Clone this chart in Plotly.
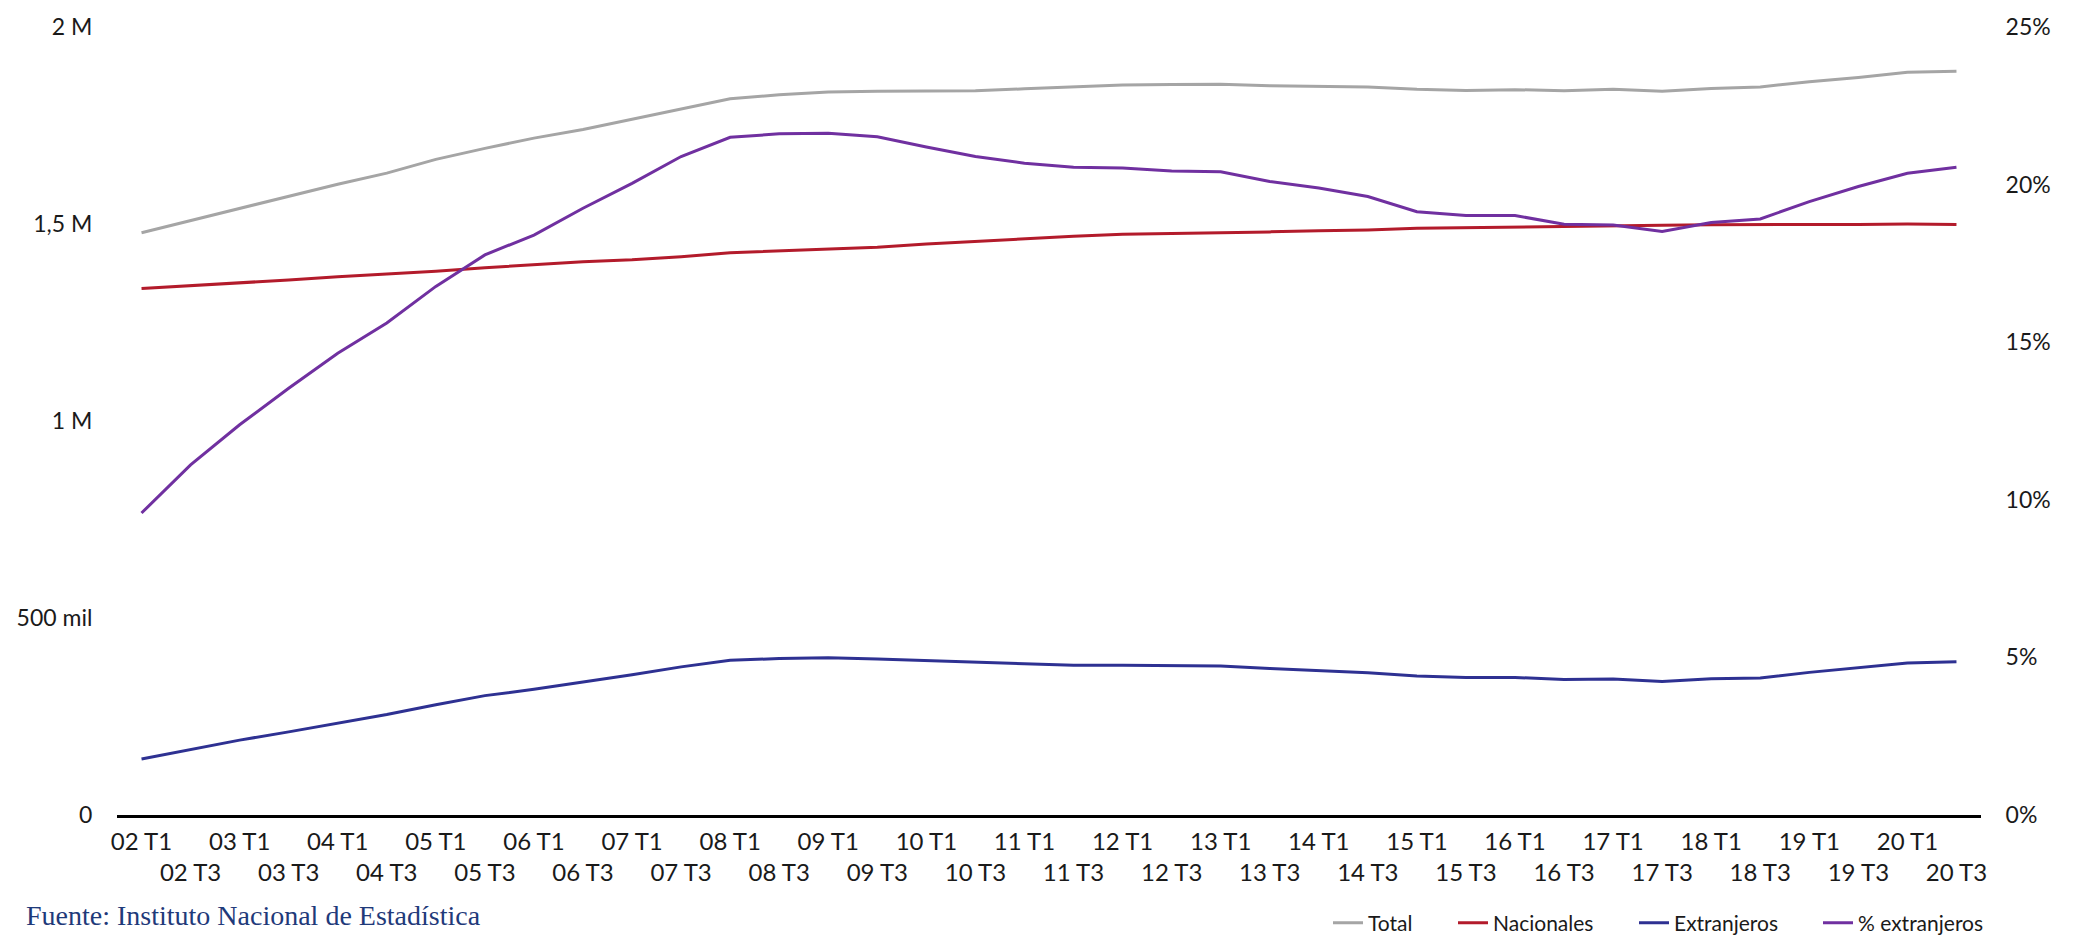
import plotly.graph_objects as go

# ---- data ----
periods = []
for yy in range(2, 21):
    periods.append(f"{yy:02d} T1")
    periods.append(f"{yy:02d} T3")

total = [1.478, 1.509, 1.540, 1.570, 1.601, 1.629, 1.664, 1.692, 1.718, 1.740,
         1.766, 1.792, 1.818, 1.828, 1.835, 1.837, 1.838, 1.838, 1.843, 1.848,
         1.853, 1.854, 1.855, 1.851, 1.850, 1.848, 1.842, 1.839, 1.841, 1.838,
         1.842, 1.837, 1.844, 1.848, 1.861, 1.872, 1.885, 1.888]
nacionales = [1.336, 1.343, 1.351, 1.358, 1.366, 1.373, 1.380, 1.389, 1.397, 1.404,
              1.409, 1.417, 1.427, 1.432, 1.437, 1.441, 1.449, 1.456, 1.463, 1.469,
              1.474, 1.476, 1.477, 1.480, 1.483, 1.485, 1.489, 1.491, 1.492, 1.494,
              1.496, 1.497, 1.498, 1.498, 1.499, 1.499, 1.500, 1.499]
extranjeros = [0.142, 0.166, 0.190, 0.211, 0.233, 0.255, 0.280, 0.303, 0.319, 0.337,
               0.356, 0.376, 0.393, 0.397, 0.399, 0.396, 0.392, 0.387, 0.383, 0.380,
               0.380, 0.379, 0.378, 0.372, 0.367, 0.361, 0.353, 0.349, 0.349, 0.344,
               0.345, 0.339, 0.346, 0.348, 0.362, 0.374, 0.386, 0.389]
pct_extranjeros = [9.58, 11.11, 12.38, 13.54, 14.65, 15.61, 16.77, 17.77, 18.40, 19.25,
                   20.04, 20.89, 21.50, 21.61, 21.63, 21.52, 21.19, 20.89, 20.68, 20.55,
                   20.53, 20.43, 20.41, 20.10, 19.89, 19.62, 19.14, 19.02, 19.02, 18.74,
                   18.72, 18.51, 18.80, 18.91, 19.46, 19.94, 20.36, 20.55]

series_names = ["Total", "Nacionales", "Extranjeros", "% extranjeros"]
series_colors = ["#A5A5A5", "#B31B2B", "#2E3192", "#7030A0"]

left_tickvals = [0, 500000, 1000000, 1500000, 2000000]
left_ticktext = ["0", "500 mil", "1 M", "1,5 M", "2 M"]
right_tickvals = [0, 5, 10, 15, 20, 25]
right_ticktext = ["0%", "5%", "10%", "15%", "20%", "25%"]

x_ticktext = [p if i % 2 == 0 else "<br>" + p for i, p in enumerate(periods)]

FONT = "Lato"
W, H = 2080, 937

fig = go.Figure()
ydata = [[v * 1e6 for v in total], [v * 1e6 for v in nacionales],
         [v * 1e6 for v in extranjeros], pct_extranjeros]
legend_ids = ["legend", "legend2", "legend3", "legend4"]
for k in range(4):
    fig.add_trace(go.Scatter(x=periods, y=ydata[k], name=series_names[k],
                             mode="lines", yaxis="y2" if k == 3 else "y",
                             legend=legend_ids[k],
                             line=dict(color=series_colors[k], width=3)))

legend_left_px = [1328, 1453, 1634, 1818]
legend_y = 1 - 923 / H
leg_common = dict(orientation="h", xref="container", yref="container",
                  xanchor="left", yanchor="middle", y=legend_y,
                  font=dict(family=FONT, size=21, color="#1a1a1a"),
                  bgcolor="rgba(0,0,0,0)", itemwidth=30)

fig.update_layout(
    width=W, height=H,
    margin=dict(l=117, r=99, t=27, b=121.5),
    paper_bgcolor="white", plot_bgcolor="white",
    font=dict(family=FONT, size=23, color="#1a1a1a"),
    showlegend=True,
    legend=dict(x=legend_left_px[0] / W, **leg_common),
    legend2=dict(x=legend_left_px[1] / W, **leg_common),
    legend3=dict(x=legend_left_px[2] / W, **leg_common),
    legend4=dict(x=legend_left_px[3] / W, **leg_common),
    xaxis=dict(type="category", categoryorder="array", categoryarray=periods,
               range=[-0.5, len(periods) - 0.5],
               tickmode="array", tickvals=periods, ticktext=x_ticktext,
               tickangle=0, showgrid=False, zeroline=False,
               showline=True, linecolor="black", linewidth=3,
               ticks="outside", ticklen=3, tickcolor="rgba(0,0,0,0)",
               tickfont=dict(family=FONT, size=24, color="#1a1a1a")),
    yaxis=dict(range=[0, 2000000], tickmode="array", tickvals=left_tickvals,
               ticktext=left_ticktext, showgrid=False, zeroline=False, showline=False,
               ticks="outside", ticklen=19, tickcolor="rgba(0,0,0,0)",
               tickfont=dict(family=FONT, size=23, color="#1a1a1a")),
    yaxis2=dict(range=[0, 25], overlaying="y", side="right", tickmode="array",
                tickvals=right_tickvals, ticktext=right_ticktext,
                showgrid=False, zeroline=False, showline=False,
                ticks="outside", ticklen=19, tickcolor="rgba(0,0,0,0)",
                tickfont=dict(family=FONT, size=23, color="#1a1a1a")),
)

fig.add_annotation(text="Fuente: Instituto Nacional de Estadística",
                   xref="paper", yref="paper", x=-0.05, y=-(934 - 815.5) / 788.5,
                   xanchor="left", yanchor="bottom", showarrow=False,
                   font=dict(family="Liberation Serif", size=28, color="#1F3A7A"))

fig.write_html("out.html", config={"displayModeBar": False},
               post_script="document.body.style.margin='0';document.body.style.overflow='hidden';")
